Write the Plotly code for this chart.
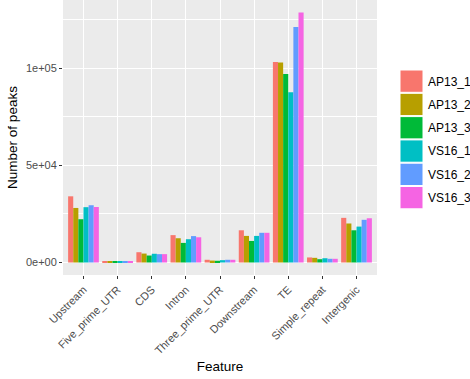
import plotly.graph_objects as go

features = ["Upstream", "Five_prime_UTR", "CDS", "Intron", "Three_prime_UTR",
            "Downstream", "TE", "Simple_repeat", "Intergenic"]
samples = ["AP13_1", "AP13_2", "AP13_3", "VS16_1", "VS16_2", "VS16_3"]
colors = ["#F8766D", "#B79F00", "#00BA38", "#00BFC4", "#619CFF", "#F564E3"]

AP13_1 = [34100, 500, 5300, 14100, 1400, 16600, 103300, 2600, 23000]
AP13_2 = [28100, 400, 4600, 12500, 1000, 13700, 103100, 2400, 20100]
AP13_3 = [22300, 350, 3600, 10100, 900, 11100, 97100, 1700, 16600]
VS16_1 = [28500, 400, 4500, 12000, 1200, 13700, 87700, 2200, 18500]
VS16_2 = [29500, 400, 4300, 13600, 1400, 15300, 121300, 1900, 22000]
VS16_3 = [28600, 400, 4300, 13000, 1400, 15300, 128800, 1900, 22800]
series = [AP13_1, AP13_2, AP13_3, VS16_1, VS16_2, VS16_3]

fig = go.Figure()
for name, vals, col in zip(samples, series, colors):
    fig.add_trace(go.Bar(x=features, y=vals, name=name, marker=dict(color=col, line=dict(width=0)),
                         showlegend=False))

W, H = 470, 379
L, R, T, B = 63, 93, 0, 104
pw = W - L - R
ph = H - T - B

def px_x(x):
    return (x - L) / pw

def px_y(y):
    return (H - B - y) / ph

shapes = []
annotations = []
for i, (name, col) in enumerate(zip(samples, colors)):
    top = 70 + i * 23.3
    shapes.append(dict(type="rect", xref="paper", yref="paper",
                       x0=px_x(400), x1=px_x(423), y0=px_y(top + 22.3), y1=px_y(top),
                       fillcolor=col, line=dict(color="white", width=1)))
    annotations.append(dict(xref="paper", yref="paper", x=px_x(426), y=px_y(top + 11.5),
                            text=name, showarrow=False, xanchor="left", yanchor="middle",
                            font=dict(size=12, color="black")))

fig.update_layout(
    width=W, height=H,
    margin=dict(l=L, r=R, t=T, b=B, pad=0),
    paper_bgcolor="white", plot_bgcolor="#EBEBEB",
    barmode="group", bargap=0.1, bargroupgap=0,
    font=dict(family="Liberation Sans, Arial, sans-serif"),
    shapes=shapes, annotations=annotations,
    showlegend=False,
    xaxis=dict(
        title=dict(text="Feature", font=dict(size=13.5, color="black"), standoff=6),
        tickangle=-45, tickfont=dict(size=11, color="#4D4D4D"),
        range=[-0.6, 8.6], showgrid=True, gridcolor="white", gridwidth=1.1,
        ticks="outside", ticklen=3, tickcolor="#333333", tickwidth=1,
        zeroline=False, showline=False,
    ),
    yaxis=dict(
        title=dict(text="Number of peaks", font=dict(size=13.5, color="black"), standoff=5),
        range=[-6440, 135240], tickvals=[0, 50000, 100000],
        ticktext=["0e+00", "5e+04", "1e+05"],
        tickfont=dict(size=11, color="#4D4D4D"),
        showgrid=True, gridcolor="white", gridwidth=1.1,
        minor=dict(tickvals=[25000, 75000, 125000], showgrid=True, gridcolor="white", gridwidth=0.5),
        ticks="outside", ticklen=3, tickcolor="#333333", tickwidth=1,
        zeroline=False, showline=False,
    ),
)

fig.write_html("out.html", config={"displayModeBar": False},
               post_script="document.body.style.margin='0';document.body.style.overflow='hidden';")
